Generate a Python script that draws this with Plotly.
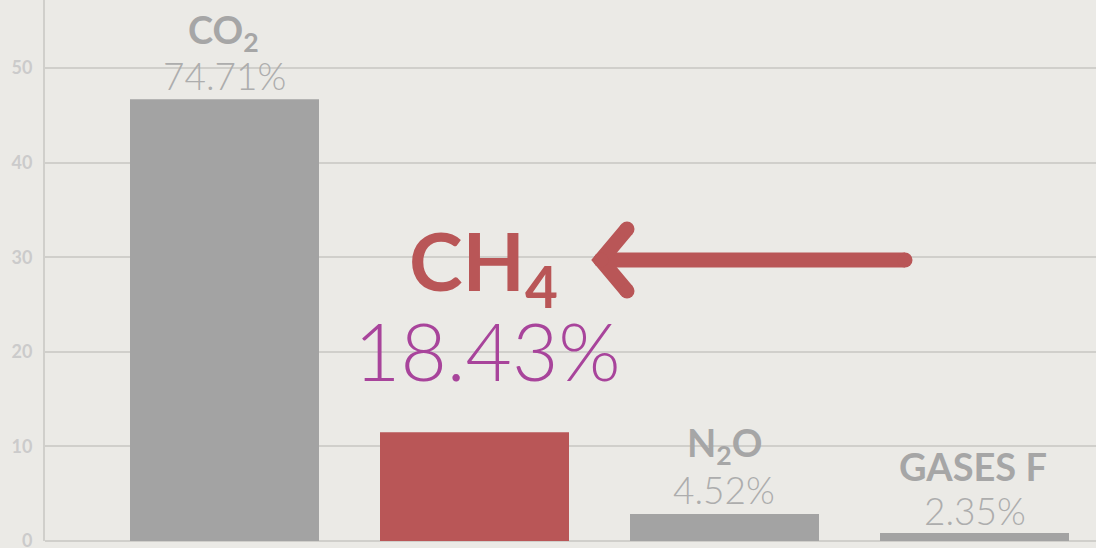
import plotly.graph_objects as go

# ---- data ----
categories = ["CO2", "CH4", "N2O", "GASES F"]
values = [46.7, 11.5, 2.85, 0.85]
labels = ["CO<sub>2</sub>", "CH<sub>4</sub>", "N<sub>2</sub>O", "GASES F"]
shares = ["74.71%", "18.43%", "4.52%", "2.35%"]
tick_vals = [0, 10, 20, 30, 40, 50]

# ---- styling ----
BG = "#ebeae6"
GRAY_BAR = "#a3a3a3"
RED = "#b95657"
MAGENTA = "#a8449b"
GRID = "#d0cfcb"

W, H = 1096, 548
ML, MR, MT, MB = 45, 0, 0, 7
PX_PER_UNIT = 9.46
X0_PX, X_STEP = 224.5, 250.0
Y_TOP = (H - MB - MT) / PX_PER_UNIT
X_RANGE = [(ML - X0_PX) / X_STEP, (W - MR - X0_PX) / X_STEP]


def dx(px):
    return (px - X0_PX) / X_STEP


def dy(py):
    return (H - MB - py) / PX_PER_UNIT


bar_colors = [GRAY_BAR, RED, GRAY_BAR, GRAY_BAR]

fig = go.Figure()
fig.add_trace(go.Bar(
    x=list(range(len(categories))), y=values, width=0.756,
    marker=dict(color=bar_colors, line=dict(width=0)),
    hoverinfo="skip", showlegend=False,
))

# arrow (decoration) drawn as thick lines with round ends
arrow_color = RED
fig.add_trace(go.Scatter(
    x=[dx(905), dx(601)], y=[dy(260), dy(260)], mode="lines+markers",
    line=dict(color=arrow_color, width=15),
    marker=dict(color=arrow_color, size=15),
    hoverinfo="skip", showlegend=False,
))
fig.add_trace(go.Scatter(
    x=[dx(627), dx(601), dx(627)], y=[dy(229), dy(260), dy(291)], mode="lines+markers",
    line=dict(color=arrow_color, width=15),
    marker=dict(color=arrow_color, size=15),
    hoverinfo="skip", showlegend=False,
))

# label annotations
label_pos = [(223.5, 32), (483.5, 265), (724, 445), (972.5, 466)]
label_size = [38, 81, 38, 38]
label_color = ["#a6a6a6", RED, "#a6a6a6", "#a6a6a6"]
share_pos = [(224.5, 75), (487, 350), (723.5, 489.5), (975, 510.5)]
share_size = [37, 80, 37, 37]
share_color = ["#adadad", MAGENTA, "#adadad", "#adadad"]

for i in range(len(categories)):
    fig.add_annotation(
        x=dx(label_pos[i][0]), y=dy(label_pos[i][1]), xref="x", yref="y",
        text=labels[i], showarrow=False, xanchor="center", yanchor="middle",
        font=dict(family="Lato", size=label_size[i], color=label_color[i], weight=700),
    )
    fig.add_annotation(
        x=dx(share_pos[i][0]), y=dy(share_pos[i][1]), xref="x", yref="y",
        text=shares[i], showarrow=False, xanchor="center", yanchor="middle",
        font=dict(family="Lato", size=share_size[i], color=share_color[i], weight=300),
    )

fig.update_layout(
    width=W, height=H,
    margin=dict(l=ML, r=MR, t=MT, b=MB, autoexpand=False),
    paper_bgcolor=BG, plot_bgcolor=BG,
    bargap=0.244,
    xaxis=dict(range=X_RANGE, showticklabels=False, showgrid=False, zeroline=False,
               ticks="", showline=False, automargin=False),
    yaxis=dict(range=[0, Y_TOP], tickvals=tick_vals, showgrid=True, gridcolor=GRID,
               gridwidth=2, zeroline=True, zerolinecolor=GRID, zerolinewidth=2,
               showline=True, linecolor=GRID, linewidth=2, ticks="",
               ticklabelstandoff=7, ticklabeloverflow="allow", automargin=False,
               tickfont=dict(family="Lato", size=18, color="#cbcbcb", weight=700)),
    font=dict(family="Lato"),
)

fig.write_html(
    "out.html",
    config={"displayModeBar": False},
    post_script="document.body.style.margin='0';document.body.style.background='#ebeae6';",
)
